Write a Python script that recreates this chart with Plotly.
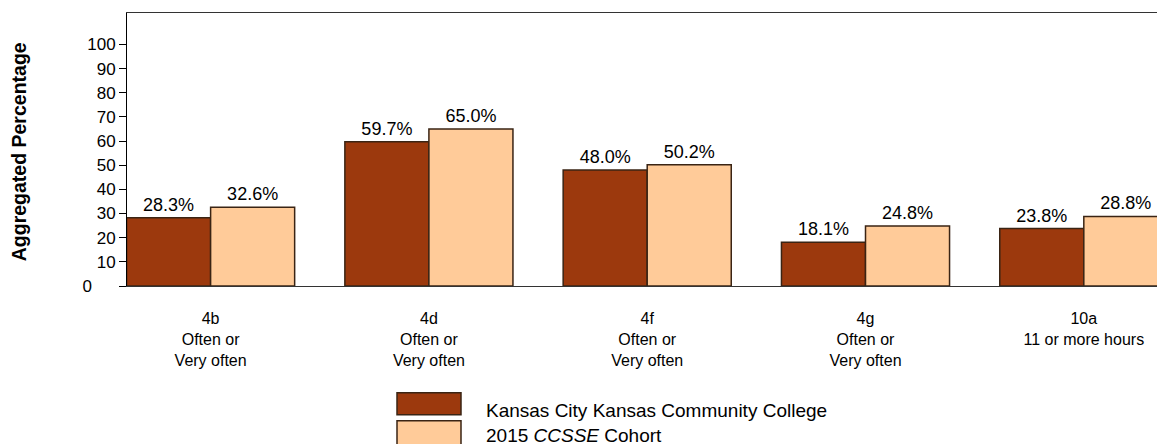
import plotly.graph_objects as go

categories = ["4b<br>Often or<br>Very often", "4d<br>Often or<br>Very often",
              "4f<br>Often or<br>Very often", "4g<br>Often or<br>Very often",
              "10a<br>11 or more hours"]
college_values = [28.3, 59.7, 48.0, 18.1, 23.8]
cohort_values = [32.6, 65.0, 50.2, 24.8, 28.8]
series_names = ["Kansas City Kansas Community College", "2015 <i>CCSSE</i> Cohort"]
y_tick_vals = [0, 10, 20, 30, 40, 50, 60, 70, 80, 90, 100]
y_tick_text = ["0\u00a0\u00a0\u00a0\u00a0\u00a0", "10", "20", "30", "40", "50", "60", "70", "80", "90", "100"]

DARK = "#9C390D"
LIGHT = "#FFCB99"
EDGE = "#3a2414"
FONT = "Liberation Sans, Arial, sans-serif"

W, H = 1157, 444
L, T, B = 127, 12.5, 158
plot_w = W - L
plot_h = H - T - B


def px_x(px):
    return (px - L) / plot_w


def px_y(py):
    return (H - B - py) / plot_h


x_idx = list(range(len(categories)))

fig = go.Figure()
for vals, color, name in [(college_values, DARK, series_names[0]),
                          (cohort_values, LIGHT, series_names[1])]:
    fig.add_trace(go.Bar(
        x=x_idx, y=vals, name=name,
        marker=dict(color=color, line=dict(color=EDGE, width=1.5)),
        text=[f"{v:.1f}%" for v in vals], textposition="outside",
        textfont=dict(family=FONT, size=18, color="#000"),
        cliponaxis=False, showlegend=False, hoverinfo="skip",
    ))

fig.update_layout(
    width=W, height=H,
    margin=dict(l=L, r=0, t=T, b=B, autoexpand=False),
    paper_bgcolor="white", plot_bgcolor="white",
    barmode="group", bargap=0.23, bargroupgap=0,
    font=dict(family=FONT, size=17, color="#000"),
    xaxis=dict(
        tickmode="array", tickvals=x_idx, ticktext=categories,
        range=[-0.383, -0.383 + plot_w / 218.3],
        showline=True, linecolor="#333", linewidth=1, mirror=True,
        ticks="outside", ticklen=18, tickcolor="rgba(0,0,0,0)",
        tickfont=dict(family=FONT, size=16, color="#000"),
        showgrid=False, zeroline=False, fixedrange=True,
    ),
    yaxis=dict(
        tickmode="array", tickvals=y_tick_vals, ticktext=y_tick_text,
        range=[0, plot_h / 2.42],
        showline=True, linecolor="#000", linewidth=1,
        ticks="outside", ticklen=7, tickcolor="#000",
        tickfont=dict(family=FONT, size=17, color="#000"),
        showgrid=False, zeroline=False, fixedrange=True,
    ),
)

# y-axis title
fig.add_annotation(
    text="<b>Aggregated Percentage</b>", textangle=-90,
    xref="paper", yref="paper", x=px_x(19), y=px_y(152),
    xanchor="center", yanchor="middle", showarrow=False,
    font=dict(family=FONT, size=19.5, color="#000"),
)

# manual legend
legend_boxes = [(DARK, 393, 415, 411), (LIGHT, 421, 452, 436)]
for (color, top, bot, ty), name in zip(legend_boxes, series_names):
    fig.add_shape(type="rect", xref="paper", yref="paper",
                  x0=px_x(397), x1=px_x(461), y0=px_y(bot), y1=px_y(top),
                  fillcolor=color, line=dict(color=EDGE, width=1.5))
    fig.add_annotation(text=name, xref="paper", yref="paper",
                       x=px_x(484), y=px_y(ty), xanchor="left", yanchor="middle",
                       showarrow=False, font=dict(family=FONT, size=19, color="#000"))

fig.write_html("out.html", config={"displayModeBar": False, "staticPlot": True},
               post_script="document.body.style.margin='0';document.body.style.overflow='hidden';")
